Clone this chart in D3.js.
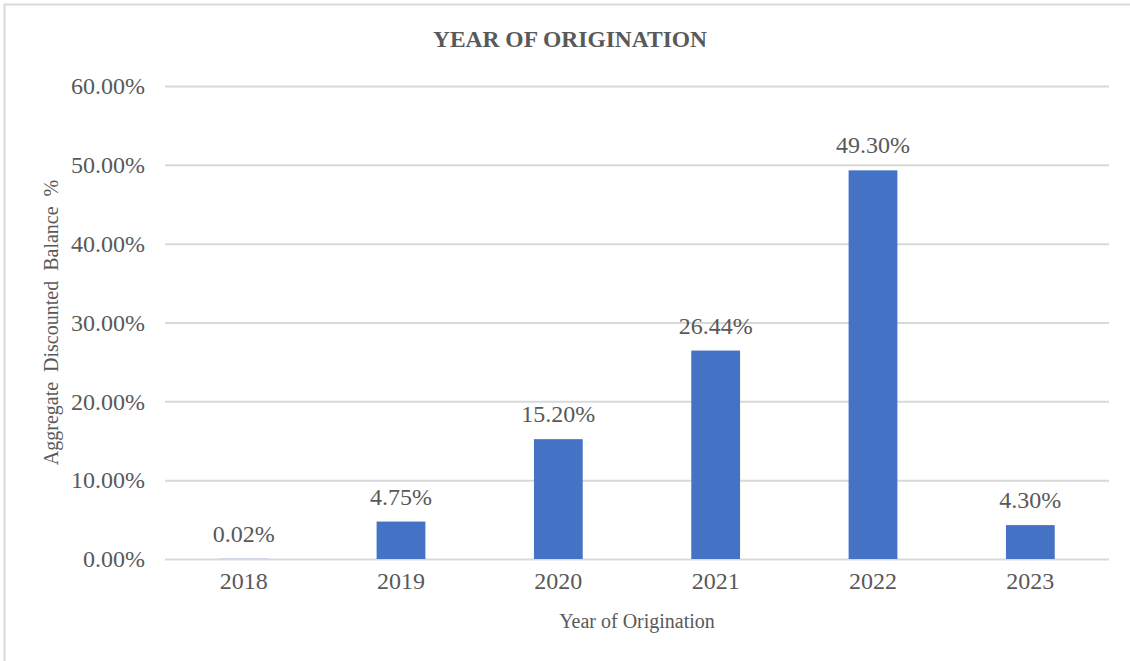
<!DOCTYPE html>
<html>
<head>
<meta charset="utf-8">
<script src="https://cdn.jsdelivr.net/npm/d3@7"></script>
<style>
  body { margin: 0; background: #fff; }
  text { font-family: "Liberation Serif", "Times New Roman", serif; fill: #595959; }
</style>
</head>
<body>
<div id="bar_chart"></div>
<script>
// chart data
var years = ["2018", "2019", "2020", "2021", "2022", "2023"];
var shares = [0.02, 4.75, 15.20, 26.44, 49.30, 4.30];
var yTicks = [0, 10, 20, 30, 40, 50, 60];

var W = 1130, H = 661;
var margin = { top: 86, right: 21, bottom: 102, left: 165 },
    width = W - margin.left - margin.right,
    height = H - margin.top - margin.bottom;

var svg = d3.select("#bar_chart")
    .append("svg")
    .attr("width", W)
    .attr("height", H);

// chart area border (left and top visible)
svg.append("path")
    .attr("d", "M4.5," + H + "V4.5H" + W)
    .attr("fill", "none")
    .attr("stroke", "#d9d9d9")
    .attr("stroke-width", 2);

// title
svg.append("text")
    .attr("x", 570)
    .attr("y", 47)
    .attr("text-anchor", "middle")
    .style("font-weight", "bold")
    .style("font-size", "23.5px")
    .text("YEAR OF ORIGINATION");

var g = svg.append("g")
    .attr("transform", "translate(" + margin.left + "," + margin.top + ")");

var x = d3.scaleBand()
    .domain(years)
    .range([0, width])
    .paddingInner(0.69)
    .paddingOuter(0.345);

var y = d3.scaleLinear()
    .domain([0, 60])
    .range([height, 0]);

// gridlines + y labels
var yAxis = g.append("g")
    .call(d3.axisLeft(y).tickValues(yTicks).tickSize(-width).tickPadding(20)
        .tickFormat(function (d) { return d.toFixed(2) + "%"; }));
yAxis.select(".domain").remove();
yAxis.selectAll(".tick line").attr("stroke", "#d9d9d9").attr("stroke-width", 2);
yAxis.selectAll(".tick text")
    .style("font-size", "24px")
    .attr("fill", "#595959")
    .style("font-family", "'Liberation Serif', serif");

// x labels
var xAxis = g.append("g")
    .attr("transform", "translate(0," + height + ")")
    .call(d3.axisBottom(x).tickSize(0).tickPadding(13));
xAxis.select(".domain").remove();
xAxis.selectAll(".tick text")
    .style("font-size", "24px")
    .attr("fill", "#595959")
    .style("font-family", "'Liberation Serif', serif")
    .attr("dy", "0.71em");

// bars
g.selectAll(".bar")
    .data(shares)
    .enter().append("rect")
    .attr("class", "bar")
    .attr("x", function (d, i) { return x(years[i]); })
    .attr("y", function (d) { return y(d); })
    .attr("width", x.bandwidth())
    .attr("height", function (d) { return height - y(d); })
    .attr("fill", "#4472c4");

// value labels
g.selectAll(".val")
    .data(shares)
    .enter().append("text")
    .attr("class", "val")
    .attr("x", function (d, i) { return x(years[i]) + x.bandwidth() / 2; })
    .attr("y", function (d) { return y(d) - 17; })
    .attr("text-anchor", "middle")
    .style("font-size", "24px")
    .text(function (d) { return d.toFixed(2) + "%"; });

// axis titles
svg.append("text")
    .attr("x", margin.left + width / 2)
    .attr("y", 628)
    .attr("text-anchor", "middle")
    .style("font-size", "20px")
    .text("Year of Origination");

svg.append("text")
    .attr("transform", "translate(58," + (margin.top + height / 2) + ") rotate(-90)")
    .attr("text-anchor", "middle")
    .style("font-size", "20px")
    .style("word-spacing", "5px")
    .text("Aggregate Discounted Balance %");
</script>
</body>
</html>
